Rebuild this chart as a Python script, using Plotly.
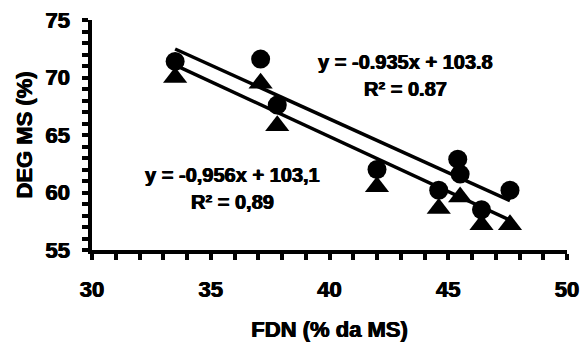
import plotly.graph_objects as go

# FDN (% da MS) values and the two DEG MS (%) series
fdn_circ = [33.5, 37.1, 37.8, 42.0, 44.6, 45.4, 45.5, 46.4, 47.6]
deg_circ = [71.4, 71.6, 67.6, 62.0, 60.2, 62.9, 61.6, 58.5, 60.2]

fdn_tri = [33.5, 37.1, 37.8, 42.0, 44.6, 45.5, 46.4, 47.6]
deg_tri = [70.0, 69.5, 65.8, 60.5, 58.6, 59.6, 57.2, 57.2]

# Fitted regression lines (slope, intercept) and their labels
fit_circ = (-0.935, 103.8)
fit_tri = (-0.956, 103.1)
eq_circ = ["y = -0.935x + 103.8", "R² = 0.87"]
eq_tri = ["y = -0,956x + 103,1", "R² = 0,89"]

x_ticks = [30, 35, 40, 45, 50]
y_ticks = [55, 60, 65, 70, 75]

FONT = "Liberation Sans, Arial, sans-serif"
HEAVY = "0.6px 0 0 black, -0.4px 0 0 black"
W, H = 581, 342
plot_l, plot_r, plot_t, plot_b = 92, 567, 20, 250

fig = go.Figure()

fig.add_trace(go.Scatter(
    x=fdn_tri, y=deg_tri, mode="markers",
    marker=dict(symbol="triangle-up", size=21, color="black"),
    showlegend=False, cliponaxis=False))
fig.add_trace(go.Scatter(
    x=fdn_circ, y=deg_circ, mode="markers",
    marker=dict(symbol="circle", size=19, color="black"),
    showlegend=False, cliponaxis=False))

for xs, (m, b) in ((fdn_circ, fit_circ), (fdn_tri, fit_tri)):
    x0, x1 = min(xs), max(xs)
    fig.add_trace(go.Scatter(
        x=[x0, x1], y=[m * x0 + b, m * x1 + b], mode="lines",
        line=dict(color="black", width=3.5), showlegend=False))

# Equation labels, positioned in pixels and converted to plot-area fractions
ann_font = dict(family=FONT, size=20, color="black", weight="bold", shadow=HEAVY)
for (eq, r2), (xp, yp) in ((eq_circ, (405, 62)), (eq_tri, (232, 175))):
    for txt, dy in ((eq, 0), (r2, 27)):
        fig.add_annotation(
            x=(xp - plot_l) / (plot_r - plot_l),
            y=(plot_b - (yp + dy)) / (plot_b - plot_t),
            xref="paper", yref="paper",
            xanchor="center", yanchor="middle", text=txt, showarrow=False,
            font=ann_font)

axis_common = dict(
    showline=True, linecolor="black", linewidth=3.5,
    ticks="outside", ticklen=6, tickwidth=4, tickcolor="black",
    showgrid=False, zeroline=False, automargin=False,
    tickfont=dict(family=FONT, size=22, color="black", weight="bold", shadow=HEAVY),
    minor=dict(ticks="outside", ticklen=6, tickwidth=4, tickcolor="black", dtick=1),
)
title_font = dict(family=FONT, size=22, color="black", weight="bold", shadow=HEAVY)

fig.update_xaxes(
    range=[30, 50], tickvals=x_ticks, ticklabelstandoff=11,
    title=dict(text="FDN (% da MS)", standoff=25, font=title_font),
    **axis_common)
fig.update_yaxes(
    range=[55, 75], tickvals=y_ticks, ticklabelstandoff=8,
    title=dict(text="DEG MS (%)", standoff=8, font=title_font),
    **axis_common)

fig.update_layout(
    width=W, height=H,
    margin=dict(l=plot_l, r=W - plot_r, t=plot_t, b=H - plot_b),
    plot_bgcolor="white", paper_bgcolor="white",
)

fig.write_html("out.html")
